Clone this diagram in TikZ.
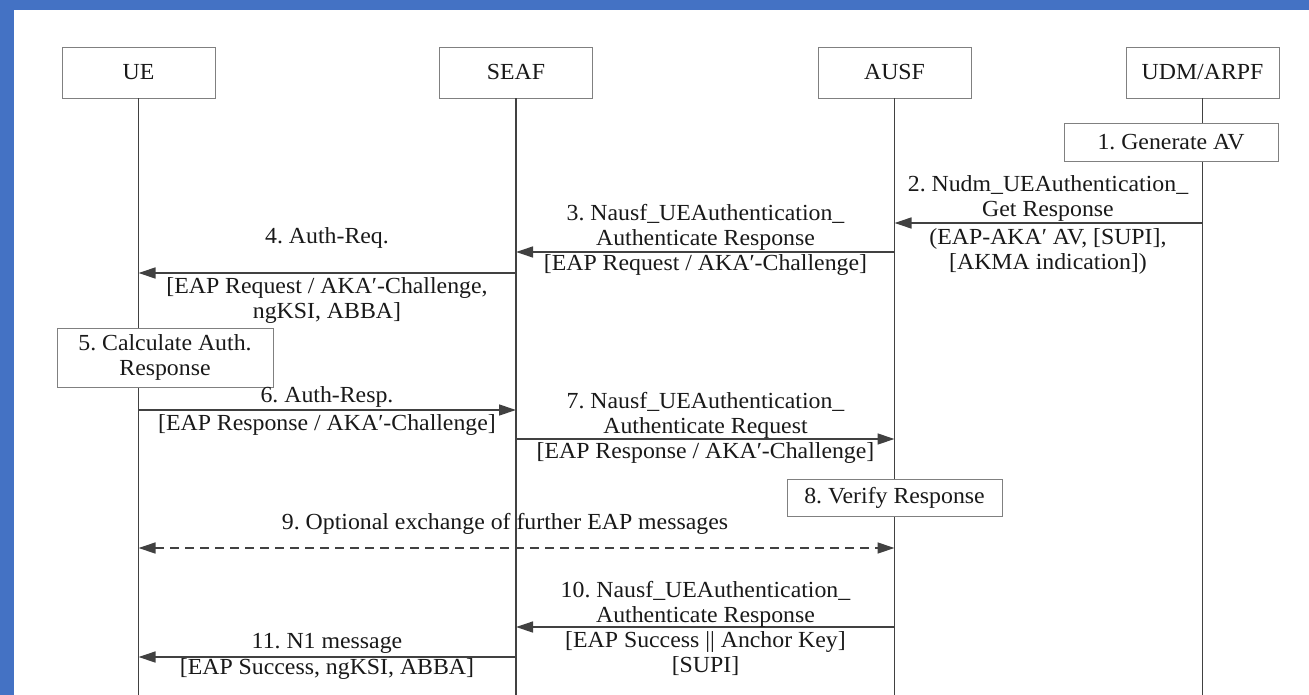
\documentclass[tikz,border=0pt]{standalone}
\usepackage{fontspec}
\setmainfont{Liberation Serif}[FakeStretch=1.035]
\usetikzlibrary{arrows.meta}
\definecolor{frameblue}{RGB}{68,114,196}
\definecolor{lineclr}{RGB}{65,65,65}
\definecolor{boxclr}{RGB}{128,128,128}
\frenchspacing
\begin{document}
\begin{tikzpicture}[x=1pt,y=-1pt,
  every node/.style={font=\fontsize{23}{25}\selectfont\frenchspacing, inner sep=0pt, text=black!90},
  entity/.style={draw=boxclr, line width=0.9pt, fill=white, minimum width=153pt, minimum height=51pt},
  action/.style={draw=boxclr, line width=0.9pt, fill=white, align=center},
  lifeline/.style={draw=lineclr, line width=1.3pt},
  msg/.style={draw=lineclr, line width=1.3pt, -{Triangle[length=17pt,width=11pt]}},
  optmsg/.style={draw=lineclr, line width=1.3pt, {Triangle[length=17pt,width=11pt]}-{Triangle[length=17pt,width=11pt]}, dash pattern=on 9pt off 6pt},
  lbl/.style={align=center}
]
% frame and canvas
\fill[frameblue] (0,0) rectangle (1309,695);
\fill[white] (14,10) rectangle (1309,695);
\useasboundingbox (0,0) rectangle (1309,695);

% participants
\node[entity] (ue)   at (138.5,72.5)  {UE};
\node[entity] (seaf) at (516,72.5)    {SEAF};
\node[entity] (ausf) at (894.5,72.5)  {AUSF};
\node[entity] (udm)  at (1202.5,72.5) {UDM/ARPF};

% lifelines
\draw[lifeline] (ue)   -- (ue   |- 0,695);
\draw[lifeline] (seaf) -- (seaf |- 0,695);
\draw[lifeline] (ausf) -- (ausf |- 0,695);
\draw[lifeline] (udm)  -- (udm  |- 0,695);

% local actions
\node[action, minimum width=214pt, minimum height=38pt] (gen)    at (1171,142)   {1. Generate AV};
\node[action, minimum width=216pt, minimum height=59pt] (calc)   at (165,357.5)  {5. Calculate Auth.\\Response};
\node[action, minimum width=215pt, minimum height=37pt] (verify) at (894.5,497.5) {8. Verify Response};

% 2
\draw[msg] (udm |- 0,223) -- (ausf |- 0,223);
\node[lbl] (l2a) at (1048,198.5) {2. Nudm\_UEAuthentication\_\\Get Response};
\node[lbl] (l2b) at (1048,251)   {(EAP-AKA′ AV, [SUPI],\\{[AKMA indication])}};
% 3
\draw[msg] (ausf |- 0,252) -- (seaf |- 0,252);
\node[lbl] (l3a) at (705.5,227) {3. Nausf\_UEAuthentication\_\\Authenticate Response};
\node[lbl] (l3b) at (705.5,265)   {[EAP Request / AKA′-Challenge]};
% 4
\draw[msg] (seaf |- 0,273) -- (ue |- 0,273);
\node[lbl] (l4a) at (327,238)   {4. Auth-Req.};
\node[lbl] (l4b) at (327,300.5) {[EAP Request / AKA′-Challenge,\\ngKSI, ABBA]};
% 6
\draw[msg] (ue |- 0,410) -- (seaf |- 0,410);
\node[lbl] (l6a) at (327,397) {6. Auth-Resp.};
\node[lbl] (l6b) at (327,425) {[EAP Response / AKA′-Challenge]};
% 7
\draw[msg] (seaf |- 0,439) -- (ausf |- 0,439);
\node[lbl] (l7a) at (705.5,415.5) {7. Nausf\_UEAuthentication\_\\Authenticate Request};
\node[lbl] (l7b) at (705.5,453)   {[EAP Response / AKA′-Challenge]};
% 9
\draw[optmsg] (ue |- 0,548) -- (ausf |- 0,548);
\node[lbl] (l9) at (505,524) {9. Optional exchange of further EAP messages};
% 10
\draw[msg] (ausf |- 0,627) -- (seaf |- 0,627);
\node[lbl] (l10a) at (705.5,604.5) {10. Nausf\_UEAuthentication\_\\Authenticate Response};
\node[lbl] (l10b) at (705.5,653.5) {[EAP Success || Anchor Key]\\{[SUPI]}};
% 11
\draw[msg] (seaf |- 0,657) -- (ue |- 0,657);
\node[lbl] (l11a) at (327,643) {11. N1 message};
\node[lbl] (l11b) at (327,669) {[EAP Success, ngKSI, ABBA]};
\end{tikzpicture}
\end{document}
